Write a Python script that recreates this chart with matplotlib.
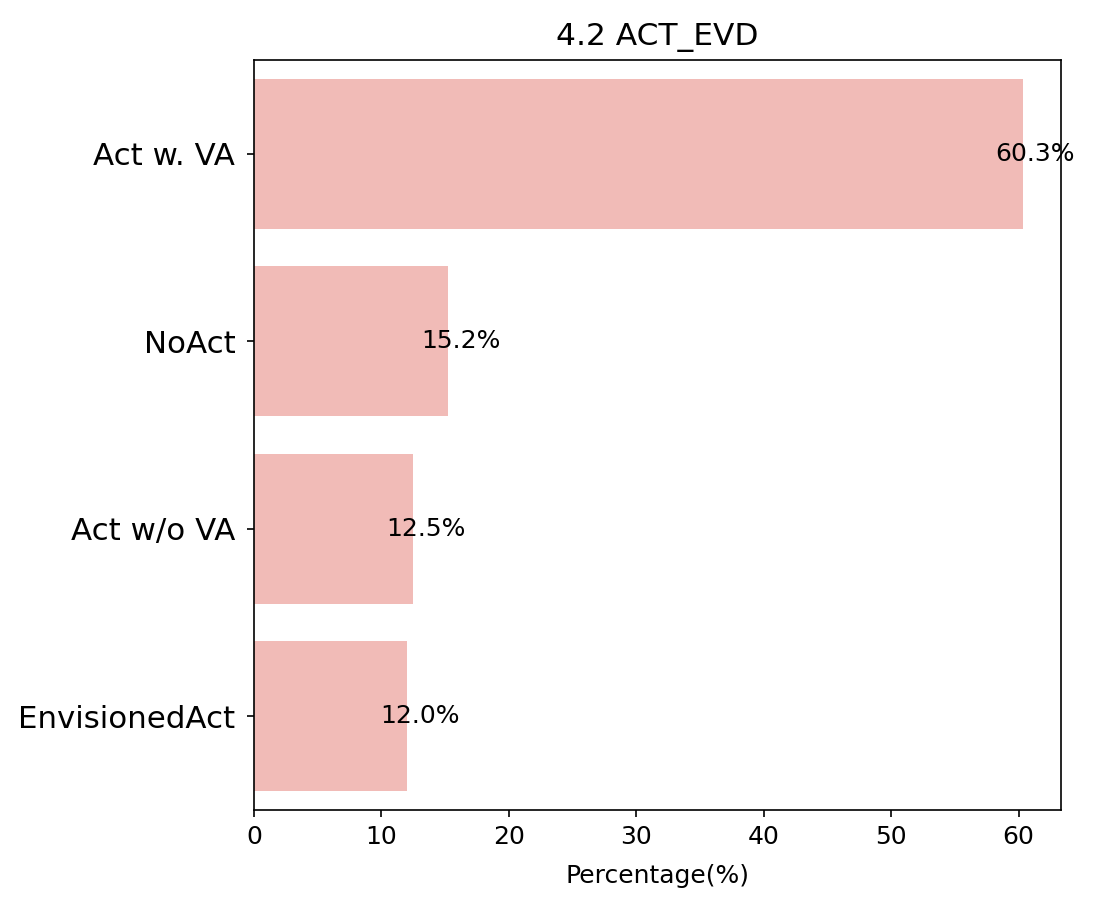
import matplotlib
matplotlib.use("Agg")
import matplotlib.pyplot as plt

categories = ["Act w. VA", "NoAct", "Act w/o VA", "EnvisionedAct"]
values = [60.3, 15.2, 12.5, 12.0]
bar_color = "#F1BBB7"

fig = plt.figure(figsize=(1096 / 150, 908 / 150), dpi=150)
ax = fig.add_axes([0.2318, 0.108, 0.968 - 0.2318, 0.934 - 0.108])

pos = list(range(len(categories)))
ax.barh(pos, values, height=0.8, color=bar_color)
ax.set_ylim(len(categories) - 0.5, -0.5)
ax.set_yticks(pos)
ax.set_yticklabels(categories, fontsize=14.8)
ax.tick_params(axis="y", pad=5.5)
ax.tick_params(axis="x", labelsize=12)

for p, v in zip(pos, values):
    ax.text(v + 1, p, f"{v:.1f}%", ha="center", va="center", fontsize=12)

ax.set_xlabel("Percentage(%)", fontsize=12, labelpad=7.5)
ax.set_title("4.2 ACT_EVD", fontsize=15, pad=7)

fig.savefig("out.png", dpi=150)
